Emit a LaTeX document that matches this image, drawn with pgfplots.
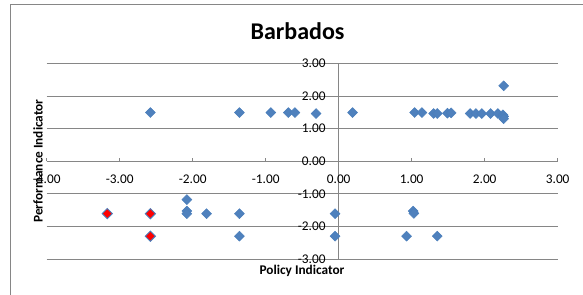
\documentclass[border=0pt]{standalone}
\usepackage{fontspec}
\setmainfont{Carlito}
\usepackage{pgfplots}
\pgfplotsset{compat=1.18}
\definecolor{gridgray}{HTML}{868686}
\definecolor{xlblue}{HTML}{4F81BD}
\definecolor{xlblueedge}{HTML}{4A7EBB}
\begin{document}
\begin{tikzpicture}
\useasboundingbox (0,0) rectangle (583bp,295bp);
\draw[gridgray, line width=0.75bp] (10.4bp,0) -- (10.4bp,290.7bp) -- (583bp,290.7bp);
\begin{axis}[
  at={(46.7bp,36bp)}, anchor=south west,
  scale only axis, width=511bp, height=195.7bp,
  xmin=-4, xmax=3, ymin=-3, ymax=3,
  axis lines=middle,
  axis line style={gridgray, line width=0.75bp, -},
  every inner x axis line/.append style={-},
  every inner y axis line/.append style={-},
  xtick={-4,-3,-2,-1,0,1,2,3}, ytick={-3,-2,-1,0,1,2,3},
  xticklabels={-4.00,-3.00,-2.00,-1.00,0.00,1.00,2.00,3.00},
  yticklabels={-3.00,-2.00,-1.00,0.00,1.00,2.00,3.00},
  hide obscured x ticks=false, hide obscured y ticks=false,
  ymajorgrids, grid style={gridgray, line width=0.75bp},
  tick align=inside, major tick length=3.5bp,
  xtick style={gridgray, line width=0.75bp},
  ytick style={draw=none},
  xticklabel style={anchor=center, inner sep=0pt, yshift=-18bp, font=\fontsize{13.3bp}{16bp}\selectfont},
  yticklabel style={anchor=east, inner sep=0pt, xshift=-13bp, font=\fontsize{13.3bp}{16bp}\selectfont},
  clip=false,
]
\addplot[only marks, mark=square*, mark size=3.5bp,
  mark options={rotate=45, fill=xlblue, draw=xlblueedge, line width=0.5bp}]
  table {
x y
-2.58 1.49
-1.36 1.49
-0.93 1.49
-0.69 1.49
-0.60 1.49
-0.31 1.46
0.19 1.49
1.04 1.49
1.14 1.49
1.30 1.46
1.35 1.46
1.49 1.47
1.54 1.48
1.80 1.46
1.88 1.46
1.96 1.46
2.08 1.46
2.18 1.46
2.25 1.42
2.26 1.37
2.26 1.30
2.26 2.31
-2.08 -1.18
-2.08 -1.53
-2.08 -1.61
-1.81 -1.61
-1.36 -1.61
-1.36 -2.30
-0.05 -1.61
-0.05 -2.30
0.93 -2.30
1.02 -1.53
1.03 -1.60
1.35 -2.30
};
\addplot[only marks, mark=square*, mark size=3.6bp,
  mark options={rotate=45, fill=red, draw=xlblueedge, line width=0.9bp}]
  table {
x y
-3.17 -1.61
-2.58 -1.61
-2.58 -2.30
};
\end{axis}
\node[font=\bfseries\fontsize{24bp}{28bp}\selectfont, anchor=center] at (297.5bp,264bp) {Barbados};
\node[font=\bfseries\fontsize{13.3bp}{16bp}\selectfont, anchor=base] at (302bp,20.7bp) {Policy Indicator};
\node[font=\bfseries\fontsize{13.3bp}{16bp}\selectfont, rotate=90, anchor=base] at (42.5bp,134bp) {Performance Indicator};
\end{tikzpicture}
\end{document}
